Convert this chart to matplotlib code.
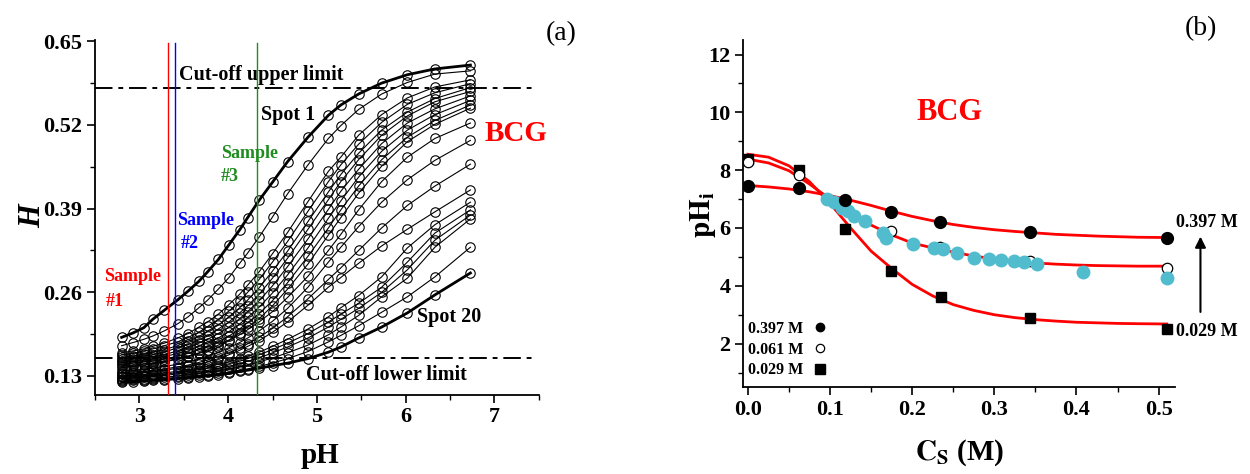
import matplotlib
matplotlib.use('Agg')
import matplotlib.pyplot as plt
from matplotlib.ticker import FixedLocator, FormatStrFormatter
from matplotlib.lines import Line2D

plt.rcParams['font.family'] = ['Liberation Serif', 'DejaVu Serif']
plt.rcParams['font.weight'] = 'bold'
plt.rcParams['mathtext.fontset'] = 'stix'

# ---------------- panel (a) data ----------------
ph_grid = [2.80, 2.93, 3.05, 3.15, 3.28, 3.43, 3.55, 3.67, 3.77, 3.89, 4.01, 4.13,
           4.22, 4.35, 4.50, 4.67, 4.90, 5.13, 5.27, 5.47, 5.73, 6.02, 6.33, 6.73]

h_spot1 = [0.190, 0.197, 0.205, 0.218, 0.232, 0.248, 0.262, 0.277, 0.292, 0.311, 0.334, 0.357,
           0.376, 0.403, 0.431, 0.463, 0.501, 0.535, 0.551, 0.568, 0.585, 0.598, 0.607, 0.613]
h_spot2 = [0.177, 0.182, 0.187, 0.192, 0.200, 0.211, 0.222, 0.236, 0.248, 0.265, 0.283, 0.305,
           0.321, 0.346, 0.377, 0.413, 0.458, 0.499, 0.519, 0.544, 0.568, 0.586, 0.599, 0.604]
h_spot3 = [0.166, 0.169, 0.172, 0.176, 0.181, 0.189, 0.196, 0.206, 0.214, 0.226, 0.241, 0.257,
           0.271, 0.292, 0.320, 0.353, 0.401, 0.448, 0.470, 0.504, 0.536, 0.562, 0.579, 0.590]
h_spot4 = [0.163, 0.165, 0.169, 0.172, 0.177, 0.183, 0.190, 0.198, 0.207, 0.218, 0.231, 0.246,
           0.260, 0.280, 0.307, 0.339, 0.386, 0.432, 0.458, 0.490, 0.524, 0.552, 0.570, 0.584]
h_spot5 = [0.159, 0.161, 0.164, 0.167, 0.171, 0.177, 0.184, 0.191, 0.200, 0.209, 0.222, 0.236,
           0.248, 0.267, 0.293, 0.324, 0.370, 0.416, 0.443, 0.476, 0.512, 0.540, 0.561, 0.578]
h_spot6 = [0.156, 0.159, 0.161, 0.163, 0.167, 0.174, 0.179, 0.186, 0.192, 0.203, 0.214, 0.228,
           0.239, 0.257, 0.282, 0.313, 0.358, 0.404, 0.432, 0.466, 0.504, 0.534, 0.556, 0.572]
h_spot7 = [0.153, 0.156, 0.158, 0.160, 0.163, 0.169, 0.174, 0.181, 0.187, 0.196, 0.206, 0.219,
           0.230, 0.247, 0.270, 0.300, 0.343, 0.389, 0.417, 0.451, 0.491, 0.523, 0.545, 0.565]
h_spot8 = [0.151, 0.153, 0.155, 0.157, 0.160, 0.165, 0.169, 0.176, 0.181, 0.189, 0.199, 0.211,
           0.221, 0.237, 0.259, 0.287, 0.329, 0.375, 0.402, 0.439, 0.479, 0.512, 0.536, 0.558]
h_spot9 = [0.148, 0.150, 0.152, 0.153, 0.156, 0.161, 0.165, 0.171, 0.176, 0.183, 0.192, 0.203,
           0.213, 0.227, 0.247, 0.275, 0.316, 0.360, 0.388, 0.425, 0.466, 0.501, 0.527, 0.551]
h_spot10 = [0.146, 0.147, 0.149, 0.150, 0.153, 0.157, 0.161, 0.166, 0.171, 0.178, 0.186, 0.197,
            0.206, 0.219, 0.239, 0.265, 0.304, 0.349, 0.376, 0.414, 0.456, 0.494, 0.521, 0.546]
h_spot11 = [0.143, 0.145, 0.147, 0.149, 0.152, 0.156, 0.160, 0.165, 0.169, 0.175, 0.185, 0.194,
            0.202, 0.214, 0.230, 0.252, 0.285, 0.325, 0.350, 0.388, 0.432, 0.470, 0.499, 0.523]
h_spot12 = [0.138, 0.139, 0.140, 0.142, 0.145, 0.148, 0.152, 0.156, 0.161, 0.167, 0.174, 0.182,
            0.189, 0.200, 0.215, 0.235, 0.268, 0.307, 0.330, 0.362, 0.400, 0.435, 0.465, 0.496]
h_spot13 = [0.135, 0.136, 0.137, 0.139, 0.141, 0.144, 0.147, 0.151, 0.155, 0.160, 0.166, 0.173,
            0.180, 0.190, 0.204, 0.222, 0.250, 0.280, 0.298, 0.325, 0.360, 0.395, 0.425, 0.459]
h_spot14 = [0.133, 0.134, 0.135, 0.137, 0.139, 0.142, 0.145, 0.148, 0.152, 0.157, 0.163, 0.170,
            0.176, 0.185, 0.198, 0.214, 0.240, 0.268, 0.283, 0.305, 0.332, 0.358, 0.385, 0.419]
h_spot15 = [0.130, 0.131, 0.132, 0.133, 0.135, 0.137, 0.140, 0.142, 0.145, 0.148, 0.152, 0.157,
            0.161, 0.167, 0.176, 0.187, 0.203, 0.222, 0.236, 0.255, 0.284, 0.329, 0.365, 0.400]
h_spot16 = [0.128, 0.129, 0.130, 0.131, 0.133, 0.135, 0.137, 0.140, 0.142, 0.145, 0.149, 0.153,
            0.157, 0.163, 0.171, 0.181, 0.196, 0.214, 0.226, 0.243, 0.268, 0.307, 0.352, 0.388]
h_spot17 = [0.126, 0.127, 0.128, 0.129, 0.131, 0.133, 0.135, 0.137, 0.139, 0.142, 0.145, 0.149,
            0.153, 0.158, 0.166, 0.175, 0.189, 0.206, 0.218, 0.235, 0.260, 0.295, 0.341, 0.380]
h_spot18 = [0.124, 0.125, 0.126, 0.127, 0.128, 0.130, 0.132, 0.134, 0.136, 0.138, 0.141, 0.144,
            0.147, 0.152, 0.158, 0.166, 0.178, 0.194, 0.206, 0.224, 0.253, 0.282, 0.330, 0.374]
h_spot19 = [0.122, 0.123, 0.124, 0.125, 0.126, 0.128, 0.129, 0.131, 0.132, 0.134, 0.136, 0.139,
            0.141, 0.145, 0.150, 0.157, 0.168, 0.183, 0.193, 0.208, 0.229, 0.253, 0.284, 0.330]
h_spot20 = [0.120, 0.121, 0.122, 0.123, 0.124, 0.126, 0.127, 0.129, 0.130, 0.132, 0.134, 0.137,
            0.139, 0.142, 0.146, 0.150, 0.157, 0.167, 0.175, 0.189, 0.206, 0.228, 0.256, 0.290]

spots = [h_spot1, h_spot2, h_spot3, h_spot4, h_spot5, h_spot6, h_spot7, h_spot8, h_spot9,
         h_spot10, h_spot11, h_spot12, h_spot13, h_spot14, h_spot15, h_spot16, h_spot17,
         h_spot18, h_spot19, h_spot20]

sample_ph = [3.32, 3.40, 4.32]
sample_colors = ['#FF0000', '#0000FF', '#1E8C1E']
sample_labels = ['#1', '#2', '#3']
cutoff_upper = 0.5775
cutoff_lower = 0.158
h_ticks = [0.13, 0.26, 0.39, 0.52, 0.65]

# ---------------- panel (b) data ----------------
cs_397 = [0.0, 0.062, 0.118, 0.174, 0.234, 0.344, 0.51]
phi_397 = [7.44, 7.38, 6.96, 6.54, 6.22, 5.87, 5.67]
cs_061 = [0.0, 0.062, 0.174, 0.234, 0.344, 0.51]
phi_061 = [8.28, 7.83, 5.88, 5.34, 4.85, 4.60]
cs_029 = [0.0, 0.062, 0.118, 0.174, 0.235, 0.344, 0.51]
phi_029 = [8.38, 8.00, 5.97, 4.50, 3.60, 2.87, 2.50]
cs_cyan = [0.096, 0.105, 0.114, 0.122, 0.129, 0.143, 0.164, 0.168, 0.201, 0.226,
           0.237, 0.254, 0.275, 0.294, 0.308, 0.324, 0.336, 0.352, 0.408, 0.51]
phi_cyan = [6.99, 6.90, 6.68, 6.58, 6.41, 6.23, 5.83, 5.65, 5.44, 5.30,
            5.27, 5.13, 4.96, 4.92, 4.89, 4.85, 4.82, 4.75, 4.48, 4.27]
cs_fit = [0.0, 0.025, 0.05, 0.075, 0.1, 0.125, 0.15, 0.175, 0.2, 0.225, 0.25,
          0.275, 0.3, 0.325, 0.35, 0.375, 0.4, 0.425, 0.45, 0.475, 0.51]
fit_397 = [7.47, 7.42, 7.35, 7.25, 7.12, 6.96, 6.78, 6.58, 6.40, 6.25, 6.12,
           6.02, 5.94, 5.88, 5.83, 5.78, 5.75, 5.72, 5.70, 5.68, 5.67]
fit_061 = [8.38, 8.25, 7.98, 7.52, 7.00, 6.52, 6.10, 5.76, 5.48, 5.31, 5.17,
           5.03, 4.93, 4.85, 4.79, 4.75, 4.72, 4.70, 4.69, 4.68, 4.68]
fit_029 = [8.55, 8.45, 8.15, 7.60, 6.85, 6.00, 5.20, 4.60, 4.05, 3.65, 3.35,
           3.15, 3.00, 2.90, 2.83, 2.78, 2.74, 2.72, 2.70, 2.69, 2.68]
legend_labels = ['0.397 M', '0.061 M', '0.029 M']

# ---------------- figure ----------------
fig = plt.figure(figsize=(12.5, 4.74), dpi=100)
ax1 = fig.add_axes([0.076, 0.1667, 0.355, 0.749])
ax2 = fig.add_axes([0.5944, 0.1835, 0.3456, 0.732])

for ax in (ax1, ax2):
    ax.spines['top'].set_visible(False)
    ax.spines['right'].set_visible(False)
    ax.spines['left'].set_linewidth(1.3)
    ax.spines['bottom'].set_linewidth(1.3)
    ax.tick_params(which='major', direction='out', length=6, width=1.2, labelsize=16, pad=3)
    ax.tick_params(which='minor', direction='out', length=3.5, width=1.0)

# ---- panel (a)
xlo, xhi = 2.5, 7.5
ylo, yhi = 0.1005, 0.652
ax1.set_xlim(xlo, xhi)
ax1.set_ylim(ylo, yhi)

for i, h in enumerate(spots):
    lw = 2.0 if i in (0, len(spots) - 1) else 0.8
    ax1.plot(ph_grid, h, '-', color='black', lw=lw, zorder=3)
    ax1.plot(ph_grid, h, 'o', mfc='none', mec='black', ms=6.8, mew=0.8, zorder=4)

top_frac = (0.648 - ylo) / (yhi - ylo)
for x, c in zip(sample_ph, sample_colors):
    ax1.axvline(x, ymin=0, ymax=top_frac, color=c, lw=1.0, zorder=5)

xr = (7.44 - xlo) / (xhi - xlo)
ls_dd = (0, (9, 3, 2.5, 3))
ax1.axhline(cutoff_upper, xmin=0, xmax=xr, color='black', lw=1.4, ls=ls_dd, zorder=2)
ax1.axhline(cutoff_lower, xmin=0, xmax=xr, color='black', lw=1.4, ls=ls_dd, zorder=2)

ax1.set_yticks(h_ticks)
ax1.yaxis.set_major_formatter(FormatStrFormatter('%.2f'))
ax1.yaxis.set_minor_locator(FixedLocator([0.195, 0.325, 0.455, 0.585]))
ax1.set_xticks([3, 4, 5, 6, 7])
ax1.xaxis.set_minor_locator(FixedLocator([2.5, 3.5, 4.5, 5.5, 6.5, 7.5]))

ax1.text(3.45, cutoff_upper + 0.004, 'Cut-off upper limit', fontsize=14.5, ha='left', va='bottom')
ax1.text(4.88, 0.131, 'Cut-off lower limit', fontsize=14.5, ha='left', va='center')
ax1.text(4.37, 0.535, 'Spot 1', fontsize=14.5, ha='left', va='center')
ax1.text(6.13, 0.221, 'Spot 20', fontsize=14.5, ha='left', va='center')
ax1.text(6.89, 0.507, 'BCG', fontsize=21, color='#FF0000', ha='left', va='center')

ax1.text(2.60, 0.285, 'Sample', fontsize=13, color=sample_colors[0], ha='left', va='center')
ax1.text(2.62, 0.246, sample_labels[0], fontsize=13, color=sample_colors[0], ha='left', va='center')
ax1.text(3.43, 0.372, 'Sample', fontsize=13, color=sample_colors[1], ha='left', va='center')
ax1.text(3.47, 0.336, sample_labels[1], fontsize=13, color=sample_colors[1], ha='left', va='center')
ax1.text(3.92, 0.476, 'Sample', fontsize=13, color=sample_colors[2], ha='left', va='center')
ax1.text(3.92, 0.440, sample_labels[2], fontsize=13, color=sample_colors[2], ha='left', va='center')

fig.text(0.256, 0.038, 'pH', fontsize=21, ha='center', va='center')
fig.text(0.026, 0.545, 'H', fontsize=22, style='italic', rotation=90, ha='center', va='center')
fig.text(0.449, 0.930, '(a)', fontsize=20, fontweight='normal', ha='center', va='center')

# ---- panel (b)
ax2.set_xlim(-0.006, 0.52)
ax2.set_ylim(0.5, 12.5)

ax2.plot(cs_fit, fit_397, '-', color='#FF0000', lw=2.0, zorder=2)
ax2.plot(cs_fit, fit_061, '-', color='#FF0000', lw=2.0, zorder=2)
ax2.plot(cs_fit, fit_029, '-', color='#FF0000', lw=2.0, zorder=2)

h029, = ax2.plot(cs_029, phi_029, 's', color='black', ms=7, zorder=3, ls='none')
h061, = ax2.plot(cs_061, phi_061, 'o', mfc='white', mec='black', ms=7.5, mew=0.9, zorder=4, ls='none')
ax2.plot(cs_cyan, phi_cyan, 'o', color='#52BCCF', ms=9, zorder=5, ls='none')
h397, = ax2.plot(cs_397, phi_397, 'o', color='black', ms=8.5, zorder=6, ls='none')

ax2.set_yticks([2, 4, 6, 8, 10, 12])
ax2.yaxis.set_minor_locator(FixedLocator([1, 3, 5, 7, 9, 11]))
ax2.set_xticks([0.0, 0.1, 0.2, 0.3, 0.4, 0.5])
ax2.xaxis.set_major_formatter(FormatStrFormatter('%.1f'))
ax2.xaxis.set_minor_locator(FixedLocator([0.05, 0.15, 0.25, 0.35, 0.45]))

lh = [Line2D([], [], marker='o', color='black', ls='none', ms=6),
      Line2D([], [], marker='o', mfc='white', mec='black', ls='none', ms=6, mew=0.9),
      Line2D([], [], marker='s', color='black', ls='none', ms=6.5)]
ax2.legend(lh, legend_labels, loc='lower left', bbox_to_anchor=(0.012, 0.025),
           markerfirst=False, frameon=False, fontsize=11.5, handlelength=1.0,
           handletextpad=0.5, labelspacing=0.3, borderpad=0, borderaxespad=0)

ax2.text(0.245, 10.0, 'BCG', fontsize=22, color='#FF0000', ha='center', va='center')
ax2.text(0.521, 6.2, '0.397 M', fontsize=13, ha='left', va='center', clip_on=False)
ax2.text(0.521, 2.42, '0.029 M', fontsize=13, ha='left', va='center', clip_on=False)
ax2.annotate('', xy=(0.551, 5.80), xytext=(0.551, 3.0),
             arrowprops=dict(arrowstyle='-|>', color='black', lw=1.5, mutation_scale=16),
             annotation_clip=False)

fig.text(0.768, 0.046, r'$\mathbf{C}_\mathbf{S}$ (M)', fontsize=21, ha='center', va='center')
fig.text(0.5625, 0.546, r'$\mathbf{pH}_\mathbf{i}$', fontsize=21, rotation=90, ha='center', va='center')
fig.text(0.961, 0.940, '(b)', fontsize=20, fontweight='normal', ha='center', va='center')

fig.savefig('out.png', dpi=100)
